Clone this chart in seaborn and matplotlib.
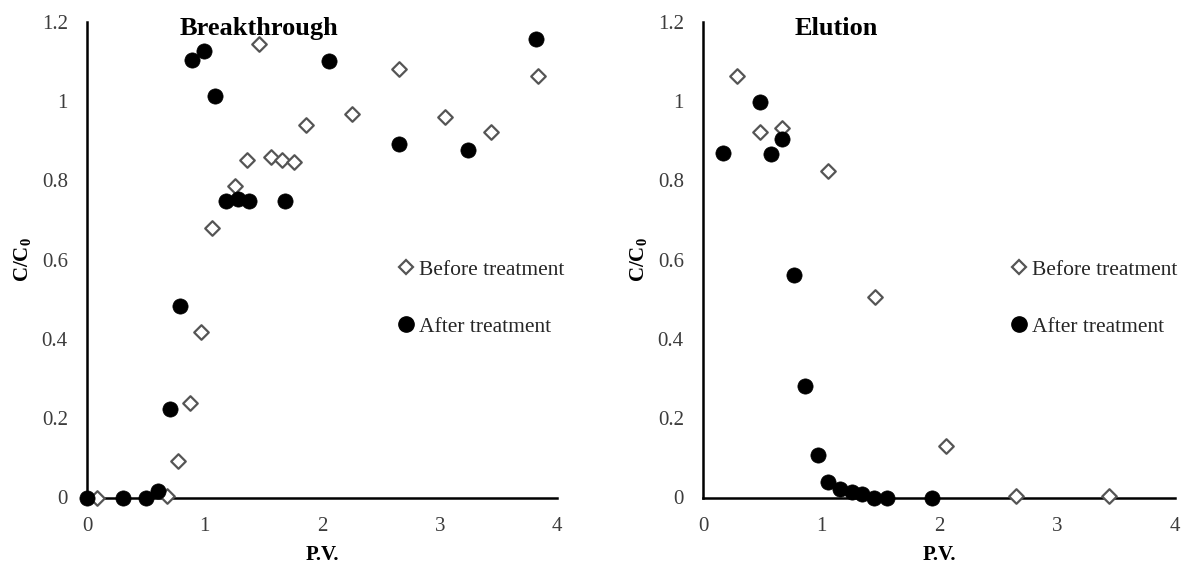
import numpy as np
import pandas as pd
import seaborn as sns
import matplotlib
matplotlib.use("Agg")
import matplotlib.pyplot as plt
from matplotlib.lines import Line2D

# ---- data ----
bt_before_x = [0.08, 0.68, 0.77, 0.87, 0.97, 1.06, 1.26, 1.36, 1.46, 1.56, 1.66, 1.76, 1.86, 2.25, 2.65, 3.04, 3.44, 3.84]
bt_before_y = [0.0, 0.003, 0.093, 0.238, 0.417, 0.680, 0.786, 0.851, 1.144, 0.860, 0.850, 0.845, 0.940, 0.967, 1.081, 0.959, 0.921, 1.062]
bt_after_x = [0.0, 0.30, 0.50, 0.60, 0.70, 0.79, 0.89, 0.99, 1.09, 1.18, 1.28, 1.38, 1.68, 2.06, 2.65, 3.24, 3.82]
bt_after_y = [0.0, 0.0, 0.0, 0.016, 0.224, 0.484, 1.103, 1.127, 1.013, 0.749, 0.753, 0.749, 0.747, 1.100, 0.892, 0.877, 1.156]

el_before_x = [0.29, 0.48, 0.67, 1.06, 1.46, 2.06, 2.65, 3.44]
el_before_y = [1.064, 0.923, 0.933, 0.824, 0.505, 0.130, 0.004, 0.004]
el_after_x = [0.17, 0.48, 0.57, 0.67, 0.77, 0.86, 0.97, 1.06, 1.16, 1.26, 1.35, 1.45, 1.56, 1.94]
el_after_y = [0.870, 0.997, 0.867, 0.904, 0.562, 0.280, 0.106, 0.040, 0.022, 0.013, 0.009, 0.0, 0.0, 0.0]

series_labels = ["Before treatment", "After treatment"]
panel_titles = ["Breakthrough", "Elution"]
x_ticks = [0, 1, 2, 3, 4]
y_ticks = [0, 0.2, 0.4, 0.6, 0.8, 1.0, 1.2]
y_tick_labels = ["0", "0.2", "0.4", "0.6", "0.8", "1", "1.2"]

sns.set_theme(style="white")
plt.rcParams["font.family"] = ["Liberation Serif", "DejaVu Serif"]
plt.rcParams["mathtext.fontset"] = "custom"
plt.rcParams["mathtext.rm"] = "Liberation Serif"
plt.rcParams["mathtext.bf"] = "Liberation Serif:bold"

W, H = 1183, 571
fig = plt.figure(figsize=(W / 100, H / 100), dpi=100)
fig.patch.set_facecolor("white")

def px_axes(x0, x1, ytop, ybot):
    return fig.add_axes([x0 / W, 1 - ybot / H, (x1 - x0) / W, (ybot - ytop) / H])

axL = px_axes(87.3, 557.3, 21.7, 497.5)
axR = px_axes(703.3, 1175.0, 21.7, 497.5)

panels = [
    (axL, bt_before_x, bt_before_y, bt_after_x, bt_after_y, panel_titles[0], 0.365, 0.665),
    (axR, el_before_x, el_before_y, el_after_x, el_after_y, panel_titles[1], 0.281, 0.655),
]

tick_col = "#3c3c3c"
for ax, bx, by, axx, ayy, title, tx, lx in panels:
    dfb = pd.DataFrame({"x": bx, "y": by})
    dfa = pd.DataFrame({"x": axx, "y": ayy})
    sns.scatterplot(data=dfb, x="x", y="y", ax=ax, marker="D", s=55,
                    facecolor="white", edgecolor="#555555", linewidth=1.6,
                    zorder=3, legend=False, clip_on=False)
    sns.scatterplot(data=dfa, x="x", y="y", ax=ax, marker="o", s=120,
                    color="black", edgecolor="black", linewidth=0.5,
                    zorder=4, legend=False, clip_on=False)
    ax.set_xlim(0, 4)
    ax.set_ylim(0, 1.2)
    ax.set_xticks(x_ticks)
    ax.set_xticklabels([str(t) for t in x_ticks])
    ax.set_yticks(y_ticks)
    ax.set_yticklabels(y_tick_labels)
    for s in ["top", "right"]:
        ax.spines[s].set_visible(False)
    for s in ["left", "bottom"]:
        ax.spines[s].set_linewidth(1.8)
        ax.spines[s].set_color("black")
    ax.tick_params(axis="both", direction="out", length=4, width=1.8,
                   colors="black", labelcolor=tick_col, labelsize=15)
    ax.tick_params(axis="x", pad=10)
    ax.tick_params(axis="y", pad=10)
    ax.set_xlabel("P.V.", fontsize=15, fontweight="bold", color="black")
    ax.xaxis.set_label_coords(0.5, -0.1)
    ax.set_ylabel(r"$\mathbf{C/C_0}$", fontsize=15, color="black")
    ax.yaxis.set_label_coords(-0.115, 0.5)
    ax.text(tx, 0.985, title, transform=ax.transAxes, ha="center", va="center",
            fontsize=19, fontweight="bold", color="black")
    handles = [
        Line2D([], [], linestyle="none", marker="D", markersize=7,
               markerfacecolor="white", markeredgecolor="#555555", markeredgewidth=1.6),
        Line2D([], [], linestyle="none", marker="o", markersize=11,
               markerfacecolor="black", markeredgecolor="black"),
    ]
    ax.legend(handles, series_labels, loc="upper left", bbox_to_anchor=(lx, 0.50),
              frameon=False, fontsize=15.5, handlelength=0.6, handletextpad=0.3,
              labelspacing=1.72, borderpad=0, borderaxespad=0)

fig.savefig("out.png", dpi=100, facecolor="white")
